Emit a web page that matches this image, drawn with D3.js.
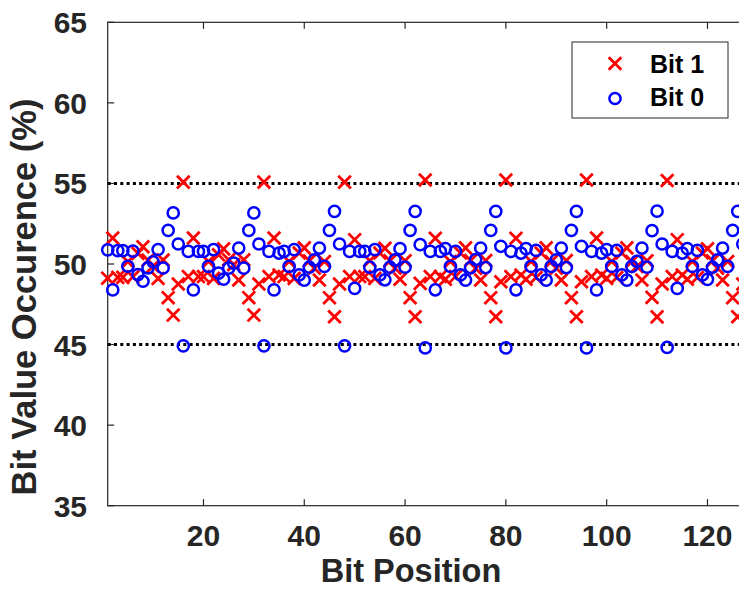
<!DOCTYPE html>
<html>
<head>
<meta charset="utf-8">
<script src="https://cdn.jsdelivr.net/npm/d3@7"></script>
<style>
  body { margin: 0; background: #fff; }
  svg { display: block; font-family: "Liberation Sans", Arial, sans-serif; font-weight: bold; }
</style>
</head>
<body>
<svg id="chart" width="739" height="589"></svg>
<script>
// bit positions 1..128
var bitPos = d3.range(1, 129);

// % of samples where the bit is 1
var bit1Vals = [
  49.12, 51.61, 49.17, 49.17, 50.14, 49.20, 50.66, 51.07, 50.24, 49.86, 49.10, 50.25, 47.91, 46.83, 48.76, 55.08,
  49.22, 51.61, 49.22, 49.22, 50.15, 49.11, 50.57, 50.94, 50.26, 49.95, 49.01, 50.26, 47.91, 46.83, 48.76, 55.08,
  49.22, 51.61, 49.32, 49.22, 50.15, 49.11, 50.68, 51.00, 50.20, 49.74, 49.01, 50.15, 47.91, 46.73, 48.76, 55.08,
  49.22, 51.51, 49.22, 49.22, 50.20, 49.11, 50.68, 50.98, 50.20, 49.74, 49.05, 50.20, 47.91, 46.73, 48.80, 55.21,
  49.22, 51.60, 49.22, 49.05, 50.15, 49.22, 50.68, 51.00, 50.22, 49.72, 49.01, 50.22, 47.91, 46.73, 48.90, 55.21,
  49.22, 51.60, 49.32, 49.05, 50.15, 49.16, 50.68, 51.00, 50.15, 49.74, 49.01, 50.22, 47.91, 46.73, 48.90, 55.21,
  49.22, 51.61, 49.32, 49.11, 50.15, 49.16, 50.68, 51.00, 50.15, 49.84, 49.01, 50.20, 47.93, 46.72, 48.76, 55.18,
  49.22, 51.51, 49.32, 49.05, 50.15, 49.16, 50.68, 50.95, 50.20, 49.74, 49.01, 50.15, 47.91, 46.73, 48.76, 55.15
];

// % of samples where the bit is 0
var bit0Vals = [
  50.88, 48.39, 50.83, 50.83, 49.86, 50.80, 49.34, 48.93, 49.76, 50.14, 50.90, 49.75, 52.09, 53.17, 51.24, 44.92,
  50.78, 48.39, 50.78, 50.78, 49.85, 50.89, 49.43, 49.06, 49.74, 50.05, 50.99, 49.74, 52.09, 53.17, 51.24, 44.92,
  50.78, 48.39, 50.68, 50.78, 49.85, 50.89, 49.32, 49.00, 49.80, 50.26, 50.99, 49.85, 52.09, 53.27, 51.24, 44.92,
  50.78, 48.49, 50.78, 50.78, 49.80, 50.89, 49.32, 49.02, 49.80, 50.26, 50.95, 49.80, 52.09, 53.27, 51.20, 44.79,
  50.78, 48.40, 50.78, 50.95, 49.85, 50.78, 49.32, 49.00, 49.78, 50.28, 50.99, 49.78, 52.09, 53.27, 51.10, 44.79,
  50.78, 48.40, 50.68, 50.95, 49.85, 50.84, 49.32, 49.00, 49.85, 50.26, 50.99, 49.78, 52.09, 53.27, 51.10, 44.79,
  50.78, 48.39, 50.68, 50.89, 49.85, 50.84, 49.32, 49.00, 49.85, 50.16, 50.99, 49.80, 52.07, 53.28, 51.24, 44.82,
  50.78, 48.49, 50.68, 50.95, 49.85, 50.84, 49.32, 49.05, 49.80, 50.26, 50.99, 49.85, 52.09, 53.27, 51.24, 44.85
];

var xTicks = [20, 40, 60, 80, 100, 120];
var yTicks = [35, 40, 45, 50, 55, 60, 65];
var refLines = [45, 55];
var seriesNames = ["Bit 1", "Bit 0"];

var svg = d3.select("#chart");
var axisCol = "#262626";

// plot box (right edge falls just past the picture)
var boxL = 107.7, boxR = 747.8, boxT = 22.3, boxB = 505.7;

var x = d3.scaleLinear().domain([1, 128]).range([boxL, boxR]);
var y = d3.scaleLinear().domain([35, 65]).range([boxB, boxT]);

svg.append("rect")
    .attr("x", boxL).attr("y", boxT)
    .attr("width", boxR - boxL).attr("height", boxB - boxT)
    .attr("fill", "none")
    .attr("stroke", axisCol)
    .attr("stroke-width", 1.2);

// ticks point inward
var tickLen = 6.5;
xTicks.forEach(function (t) {
    svg.append("line").attr("x1", x(t)).attr("x2", x(t))
        .attr("y1", boxB).attr("y2", boxB - tickLen)
        .attr("stroke", axisCol).attr("stroke-width", 1.2);
    svg.append("line").attr("x1", x(t)).attr("x2", x(t))
        .attr("y1", boxT).attr("y2", boxT + tickLen)
        .attr("stroke", axisCol).attr("stroke-width", 1.2);
    svg.append("text")
        .attr("x", x(t)).attr("y", 546)
        .attr("text-anchor", "middle")
        .attr("font-size", "30px")
        .attr("fill", axisCol)
        .text(t);
});
yTicks.forEach(function (t) {
    svg.append("line").attr("x1", boxL).attr("x2", boxL + tickLen)
        .attr("y1", y(t)).attr("y2", y(t))
        .attr("stroke", axisCol).attr("stroke-width", 1.2);
    svg.append("text")
        .attr("x", 87).attr("y", y(t) + 11)
        .attr("text-anchor", "end")
        .attr("font-size", "30px")
        .attr("fill", axisCol)
        .text(t);
});

// dotted reference lines at 45 and 55
svg.selectAll(".ref")
    .data(refLines)
    .enter().append("line")
    .attr("class", "ref")
    .attr("x1", boxL).attr("x2", boxR)
    .attr("y1", function (d) { return y(d); })
    .attr("y2", function (d) { return y(d); })
    .attr("stroke", "#000")
    .attr("stroke-width", 3)
    .attr("stroke-dasharray", "3,3.3");

// crosses (bit 1)
var cross = "M-6.3,-6.3L6.3,6.3M-6.3,6.3L6.3,-6.3";
svg.append("g").selectAll("path")
    .data(bitPos)
    .enter().append("path")
    .attr("transform", function (d, i) { return "translate(" + x(d) + "," + y(bit1Vals[i]) + ")"; })
    .attr("d", cross)
    .attr("fill", "none")
    .attr("stroke", "#ff0000")
    .attr("stroke-width", 2.8);

// circles (bit 0)
svg.append("g").selectAll("circle")
    .data(bitPos)
    .enter().append("circle")
    .attr("cx", function (d) { return x(d); })
    .attr("cy", function (d, i) { return y(bit0Vals[i]); })
    .attr("r", 5.6)
    .attr("fill", "none")
    .attr("stroke", "#0000ff")
    .attr("stroke-width", 2.5);

// axis titles
svg.append("text")
    .attr("x", 411).attr("y", 582)
    .attr("text-anchor", "middle")
    .attr("font-size", "32.5px")
    .attr("fill", axisCol)
    .text("Bit Position");

svg.append("text")
    .attr("transform", "translate(36,297) rotate(-90)")
    .attr("text-anchor", "middle")
    .attr("font-size", "34.5px")
    .attr("fill", axisCol)
    .text("Bit Value Occurence (%)");

// legend
var lg = svg.append("g");
lg.append("rect")
    .attr("x", 572).attr("y", 42)
    .attr("width", 156).attr("height", 76)
    .attr("fill", "#fff")
    .attr("stroke", axisCol)
    .attr("stroke-width", 1);
lg.append("path")
    .attr("transform", "translate(615,63.5)")
    .attr("d", cross)
    .attr("fill", "none")
    .attr("stroke", "#ff0000")
    .attr("stroke-width", 2.8);
lg.append("circle")
    .attr("cx", 615).attr("cy", 98.5).attr("r", 5.6)
    .attr("fill", "none")
    .attr("stroke", "#0000ff")
    .attr("stroke-width", 2.5);
lg.selectAll("text")
    .data(seriesNames)
    .enter().append("text")
    .attr("x", 650)
    .attr("y", function (d, i) { return i === 0 ? 72.7 : 105.5; })
    .attr("font-size", "25px")
    .attr("fill", "#000")
    .text(function (d) { return d; });
</script>
</body>
</html>
